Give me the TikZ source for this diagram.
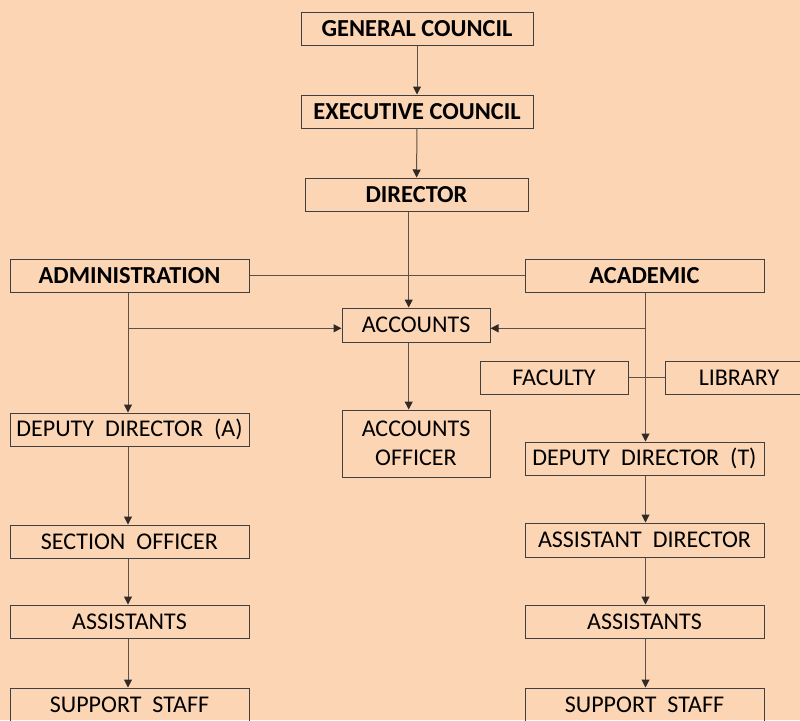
\documentclass[tikz,border=0pt]{standalone}
\usepackage{fontspec}
\setmainfont{Carlito}
\usetikzlibrary{arrows.meta}
\definecolor{bg}{HTML}{FCD5B4}
\definecolor{edge}{HTML}{404040}
\definecolor{conn}{HTML}{5E5048}
\definecolor{tip}{HTML}{2E2A28}
\newcommand\widespace{\spaceskip=11pt\relax}
\begin{document}
\begin{tikzpicture}[x=1pt,y=-1pt,
  box/.style={draw=edge,line width=1pt,inner sep=0pt,minimum height=33pt,font=\fontsize{24}{29}\selectfont,execute at begin node=\widespace},
  bbox/.style={draw=edge,line width=1pt,inner sep=0pt,minimum height=33pt,font=\fontsize{24.4}{27}\selectfont\bfseries},
  link/.style={draw=conn,line width=1pt},
  arr/.style={link,-{Triangle[length=8pt,width=8pt,color=tip]}}]
\useasboundingbox (0,0) rectangle (800,720);
\clip (0,0) rectangle (800,720);
\fill[bg] (0,0) rectangle (800,720);
% nodes
\node[bbox,minimum width=232pt] (gc) at (417,28.5) {GENERAL COUNCIL};
\node[bbox,minimum width=232pt] (ec) at (417,111.5) {EXECUTIVE COUNCIL};
\node[bbox,minimum width=223pt] (dir) at (416.5,194.5) {DIRECTOR};
\node[bbox,minimum width=239pt] (adm) at (129.5,275.5) {ADMINISTRATION};
\node[bbox,minimum width=239pt] (aca) at (644.5,275.5) {ACADEMIC};
\node[box,minimum width=148pt,minimum height=34pt] (acc) at (416,325) {ACCOUNTS};
\node[box,minimum width=148pt] (fac) at (554,377.5) {FACULTY};
\node[box,minimum width=148pt] (lib) at (739,377.5) {LIBRARY};
\node[box,minimum width=239pt] (dda) at (129.5,429.5) {DEPUTY DIRECTOR (A)};
\node[box,minimum width=148pt,minimum height=67pt,align=center] (acco) at (416,443.5) {ACCOUNTS\\OFFICER};
\node[box,minimum width=239pt] (ddt) at (644.5,458.5) {DEPUTY DIRECTOR (T)};
\node[box,minimum width=239pt] (so) at (129.5,541.5) {SECTION OFFICER};
\node[box,minimum width=239pt] (asl) at (129.5,621.5) {ASSISTANTS};
\node[box,minimum width=239pt] (ssl) at (129.5,704.5) {SUPPORT STAFF};
\node[box,minimum width=239pt,minimum height=34pt] (ad) at (644.5,540) {ASSISTANT DIRECTOR};
\node[box,minimum width=239pt] (asr) at (644.5,621.5) {ASSISTANTS};
\node[box,minimum width=239pt] (ssr) at (644.5,704.5) {SUPPORT STAFF};
% helper coordinates
\coordinate (ja) at (128,328.3);
\coordinate (jt) at (645.5,328.3);
% connectors
\draw[arr] (gc) -- (ec);
\draw[arr] (ec) -- (dir);
\draw[link] (adm) -- (aca);
\draw[arr] (dir.south -| 408.7,0) -- (acc.north -| 408.7,0);
\draw[arr] (acc.south -| 408.7,0) -- (acco.north -| 408.7,0);
\draw[arr] (adm.south -| ja) -- (dda.north -| ja);
\draw[arr] (ja) -- (acc.west |- ja);
\draw[arr] (aca.south -| jt) -- (ddt.north -| jt);
\draw[arr] (jt) -- (acc.east |- jt);
\draw[link] (fac) -- (lib);
\draw[arr] (dda.south -| ja) -- (so.north -| ja);
\draw[arr] (so.south -| ja) -- (asl.north -| ja);
\draw[arr] (asl.south -| ja) -- (ssl.north -| ja);
\draw[arr] (ddt.south -| jt) -- (ad.north -| jt);
\draw[arr] (ad.south -| jt) -- (asr.north -| jt);
\draw[arr] (asr.south -| jt) -- (ssr.north -| jt);
\end{tikzpicture}
\end{document}
